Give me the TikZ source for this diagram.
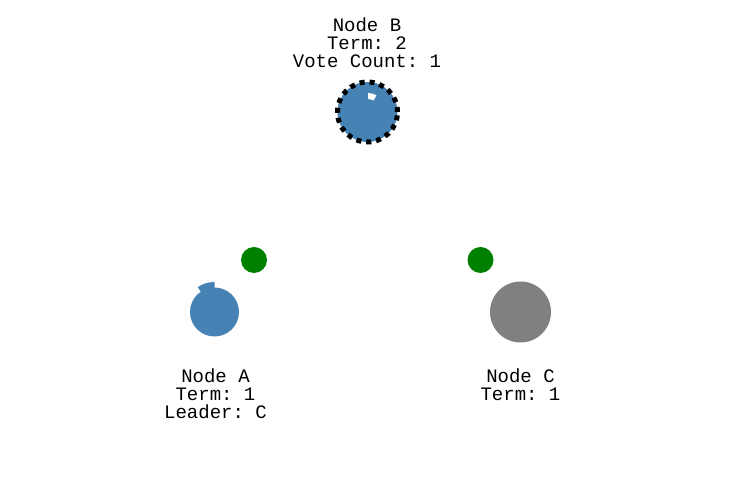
\documentclass[tikz,border=0pt]{standalone}
\usepackage{fontspec}
\setmonofont{Liberation Mono}
\usetikzlibrary{calc}
\definecolor{NodeBlue}{HTML}{4682B4}
\definecolor{NodeGray}{HTML}{808080}
\definecolor{TimerGreen}{HTML}{008000}

\begin{document}
\begin{tikzpicture}[x=1pt,y=1pt, every node/.style={circle,inner sep=0pt},
    caption/.style={rectangle,align=center,anchor=base,font=\ttfamily\fontsize{19}{18.3}\selectfont}]
    \useasboundingbox (0,0) rectangle (745,481);
    % servers
    \node[fill=NodeBlue,minimum size=49pt] (A) at (214.5,169) {};
    \fill[NodeBlue] (A.center) -- ++(90:30pt) arc[start angle=90,end angle=124,radius=30pt] -- cycle;
    \node[fill=NodeBlue,draw=black,line width=5pt,dash pattern=on 5pt off 5pt,minimum size=60pt] (B) at (367.5,369) {};
    \fill[white] ($(B.center)+(88:13pt)$) -- ($(B.center)+(88:19pt)$) arc[start angle=88,end angle=62,radius=19pt]
      -- ($(B.center)+(62:13pt)$) arc[start angle=62,end angle=88,radius=13pt] -- cycle;
    \node[fill=NodeGray,minimum size=61pt] (C) at (520.5,169) {};
    % election timers
    \foreach \n/\x in {A/254,C/480.5}{
      \node[fill=TimerGreen,minimum size=26pt] (timer\n) at (\x,221) {};
    }
    % captions (base = last line)
    \node[caption] (captionB) at (367,413) {Node B\\Term: 2\\Vote Count: 1};
    \node[caption] (captionA) at (215.5,62) {Node A\\Term: 1\\Leader: C};
    \node[caption] (captionC) at (520.5,80) {Node C\\Term: 1};
\end{tikzpicture}
\end{document}
